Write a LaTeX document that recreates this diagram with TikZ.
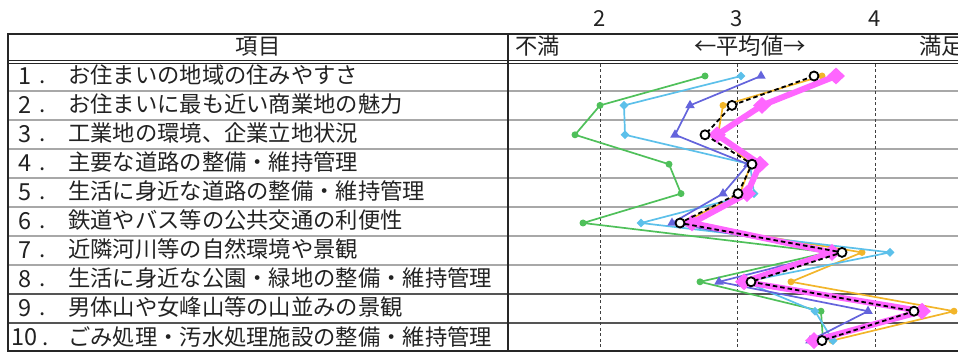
\documentclass[tikz,border=0pt]{standalone}
\usepackage{fontspec}
\setmainfont{Noto Sans CJK JP}
\usetikzlibrary{shapes.geometric}
\definecolor{cgreen}{HTML}{4FC05A}
\definecolor{cblue}{HTML}{5CC0EA}
\definecolor{cviolet}{HTML}{6464DC}
\definecolor{corange}{HTML}{F2B52A}
\definecolor{cmag}{HTML}{FF66FF}
\definecolor{rowgray}{HTML}{A8A8A8}
\definecolor{rowdark}{HTML}{555555}
\definecolor{txt}{HTML}{222222}
\newcommand\plotseries[4]{%
  \foreach \xv [count=\i] in {#4} {\coordinate (#1\i) at (\xv,{76+29.4*(\i-1)});}
  \draw[#2] (#11) \foreach \i in {2,...,10} {-- (#1\i)};
  \foreach \i in {1,...,10} {\node[#3] (#1m\i) at (#1\i) {};}
}
\begin{document}
\begin{tikzpicture}[x=1pt,y=-1pt,
  lab/.style={inner sep=0pt,text=txt,font=\fontsize{22.3}{22.3}\selectfont},
  axlab/.style={inner sep=0pt,text=txt,font=\fontsize{22}{22}\selectfont,anchor=base},
  rowline/.style={draw=rowgray,line width=1.4pt},
  rowlinedark/.style={draw=rowdark,line width=1.4pt},
  border/.style={draw=black!85,line width=1.5pt},
  gridv/.style={draw=black!75,line width=0.9pt,dash pattern=on 3pt off 2.5pt},
  thinline/.style={line width=1.7pt,line join=round},
  gmark/.style={circle,fill=cgreen,inner sep=0pt,minimum size=7pt},
  bmark/.style={diamond,fill=cblue,inner sep=0pt,minimum width=9pt,minimum height=9pt},
  vmark/.style={regular polygon,regular polygon sides=3,fill=cviolet,inner sep=0pt,minimum size=11pt},
  omark/.style={circle,fill=corange,inner sep=0pt,minimum size=7pt},
  mmark/.style={diamond,fill=cmag,inner sep=0pt,minimum width=18pt,minimum height=17pt},
  kmark/.style={circle,draw=black,line width=1.8pt,fill=white,inner sep=0pt,minimum size=9pt}]
\useasboundingbox (0,0) rectangle (958,352);
% row separators
\foreach \k in {1,...,7} {\draw[rowline] (8,{62+29*\k}) -- (958,{62+29*\k});}
\foreach \k in {8,9} {\draw[rowlinedark] (8,{62+29*\k}) -- (958,{62+29*\k});}
% vertical dashed gridlines
\foreach \v in {600,737,875} {\draw[gridv] (\v,64) -- (\v,352);}
% table borders
\draw[border] (958,34) -- (8,34) -- (8,352);
\draw[border] (8,351) -- (958,351);
\draw[border] (508,34) -- (508,352);
\draw[draw=black!85,line width=0.9pt] (8,60.3) -- (958,60.3);
\draw[draw=black!85,line width=0.9pt] (8,63.3) -- (958,63.3);
% axis labels
\node[axlab] (a2) at (600,27) {2};
\node[axlab] (a3) at (737,27) {3};
\node[axlab] (a4) at (875,27) {4};
% header
\node[lab,anchor=base] (h0) at (258,55) {項目};
\node[lab,anchor=base west] (h1) at (515,55) {不満};
\node[lab,anchor=base] (h2) at (750,55) {←平均値→};
\node[lab,anchor=base west] (h3) at (919,55) {満足};
% items
\foreach \t [count=\i] in {%
  お住まいの地域の住みやすさ,
  お住まいに最も近い商業地の魅力,
  工業地の環境、企業立地状況,
  主要な道路の整備・維持管理,
  生活に身近な道路の整備・維持管理,
  鉄道やバス等の公共交通の利便性,
  近隣河川等の自然環境や景観,
  生活に身近な公園・緑地の整備・維持管理,
  男体山や女峰山等の山並みの景観,
  ごみ処理・汚水処理施設の整備・維持管理} {
  \node[lab,anchor=base west] (item\i) at (68,{84+29*(\i-1)}) {\t};
}
\foreach \i in {1,...,9} {
  \node[lab,anchor=base east,font=\fontsize{23.5}{23.5}\selectfont] (num\i) at (32,{84.5+29*(\i-1)}) {\i};
  \node[lab,anchor=base] (dot\i) at (43,{84+29*(\i-1)}) {.};
}
\node[lab,anchor=base east,font=\fontsize{23.5}{23.5}\selectfont] (num10) at (38,345.5) {10};
\node[lab,anchor=base] (dot10) at (46,345) {.};
% data series
\plotseries{o}{thinline,draw=corange}{omark}{822,723,718,751,740,683,862,791,954,832}
\plotseries{g}{thinline,draw=cgreen}{gmark}{705,600,575,669,681,583,828,700,821,823}
\plotseries{b}{thinline,draw=cblue}{bmark}{741,624,625,750,754,641,890,745,815,833}
\plotseries{v}{thinline,draw=cviolet}{vmark}{761,690,675,748,723,672,835,719,868,810}
\plotseries{m}{line width=6pt,line join=round,draw=cmag}{mmark}{836,762,717,760,747,692,832,744,922,814}
\plotseries{k}{line width=1.8pt,draw=black,dash pattern=on 4.5pt off 3pt}{kmark}{814,732,705,752,738,680,842,751,914,822}
\end{tikzpicture}
\end{document}
